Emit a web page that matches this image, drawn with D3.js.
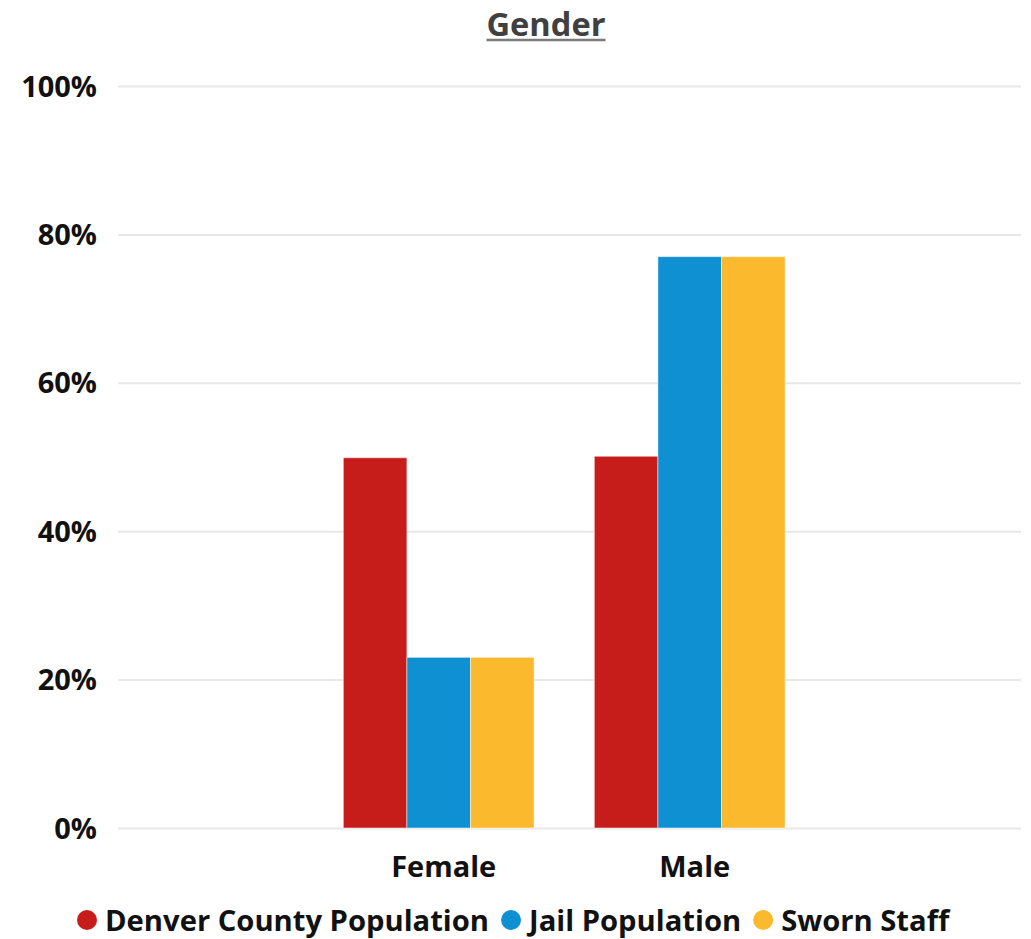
<!DOCTYPE html>
<html>
<head>
<meta charset="utf-8">
<script src="https://cdn.jsdelivr.net/npm/d3@7/dist/d3.min.js"></script>
<style>
  html, body { margin: 0; padding: 0; background: #fff; }
  text { font-family: "Open Sans", "Segoe UI", sans-serif; }
</style>
</head>
<body>
<svg id="chart" width="1031" height="939"></svg>
<script>
// Share of each group by gender (percent)
const categories = ["Female", "Male"];
const seriesNames = ["Denver County Population", "Jail Population", "Sworn Staff"];
const denverCounty = [49.9, 50.1];
const jailPopulation = [23.0, 77.0];
const swornStaff = [23.0, 77.0];
const yTicks = [0, 20, 40, 60, 80, 100];
const colors = ["#C61C1A", "#0E90D3", "#FBBA2E"];

const seriesValues = [denverCounty, jailPopulation, swornStaff];
const rows = categories.map((c, i) => ({
  category: c,
  values: seriesNames.map((s, j) => ({ series: s, value: seriesValues[j][i] }))
}));

const svg = d3.select("#chart");
const plotLeft = 118, plotRight = 1021, plotTop = 86, plotBottom = 828;

const y = d3.scaleLinear().domain([0, 100]).range([plotBottom, plotTop]);
const x = d3.scaleBand().domain(categories).range([313.2, 815.2])
  .paddingInner(0.24).paddingOuter(0.12);
const xs = d3.scaleBand().domain(seriesNames).range([0, x.bandwidth()]);
const color = d3.scaleOrdinal().domain(seriesNames).range(colors);

// Title with underline
const title = svg.append("text")
  .attr("x", 546).attr("y", 35.5)
  .attr("text-anchor", "middle")
  .attr("font-size", 32).attr("font-weight", 700)
  .attr("fill", "#404040")
  .attr("textLength", 119).attr("lengthAdjust", "spacingAndGlyphs")
  .text("Gender");
svg.append("line")
  .attr("x1", 546 - 59.5).attr("x2", 546 + 59.5)
  .attr("y1", 40).attr("y2", 40)
  .attr("stroke", "#7A7A7A").attr("stroke-width", 2.5);

// Gridlines and y axis labels
const yAxis = d3.axisLeft(y).tickValues(yTicks)
  .tickSize(-(plotRight - plotLeft))
  .tickFormat(d => d + "%");
const gy = svg.append("g")
  .attr("transform", `translate(${plotLeft},0)`)
  .call(yAxis);
gy.select(".domain").remove();
gy.selectAll(".tick line").attr("stroke", "#E8E8E8").attr("stroke-width", 2);
gy.selectAll(".tick text")
  .attr("x", -21).attr("dy", "0.35em")
  .attr("font-size", 29).attr("font-weight", 700)
  .attr("fill", "#111")
  .style("font-family", "'Open Sans', sans-serif");

// Bars
const groups = svg.append("g").selectAll("g")
  .data(rows).join("g")
  .attr("transform", d => `translate(${x(d.category)},0)`);
groups.selectAll("rect")
  .data(d => d.values).join("rect")
  .attr("x", d => xs(d.series))
  .attr("width", xs.bandwidth())
  .attr("y", d => y(d.value))
  .attr("height", d => y(0) - y(d.value))
  .attr("fill", d => color(d.series))
  .attr("stroke", "rgba(255,255,255,0.5)")
  .attr("stroke-width", 1);

// X axis labels
const xAxis = d3.axisBottom(x).tickSize(0).tickPadding(0);
const gx = svg.append("g")
  .attr("transform", `translate(5,${plotBottom})`)
  .call(xAxis);
gx.select(".domain").remove();
gx.selectAll(".tick text")
  .attr("y", 49).attr("dy", "0")
  .attr("font-size", 29).attr("font-weight", 700)
  .attr("fill", "#111")
  .style("font-family", "'Open Sans', sans-serif");

// Legend
const legend = svg.append("g").attr("transform", "translate(0,920)");
let left = 77;
seriesNames.forEach((s, i) => {
  legend.append("circle")
    .attr("cx", left + 10).attr("cy", 0).attr("r", 10)
    .attr("fill", colors[i]);
  const t = legend.append("text")
    .attr("x", left + 28).attr("y", 10.5)
    .attr("font-size", 29.2).attr("font-weight", 700)
    .attr("fill", "#111")
    .text(s);
  left += 28 + t.node().getComputedTextLength() + 12;
});
</script>
</body>
</html>
